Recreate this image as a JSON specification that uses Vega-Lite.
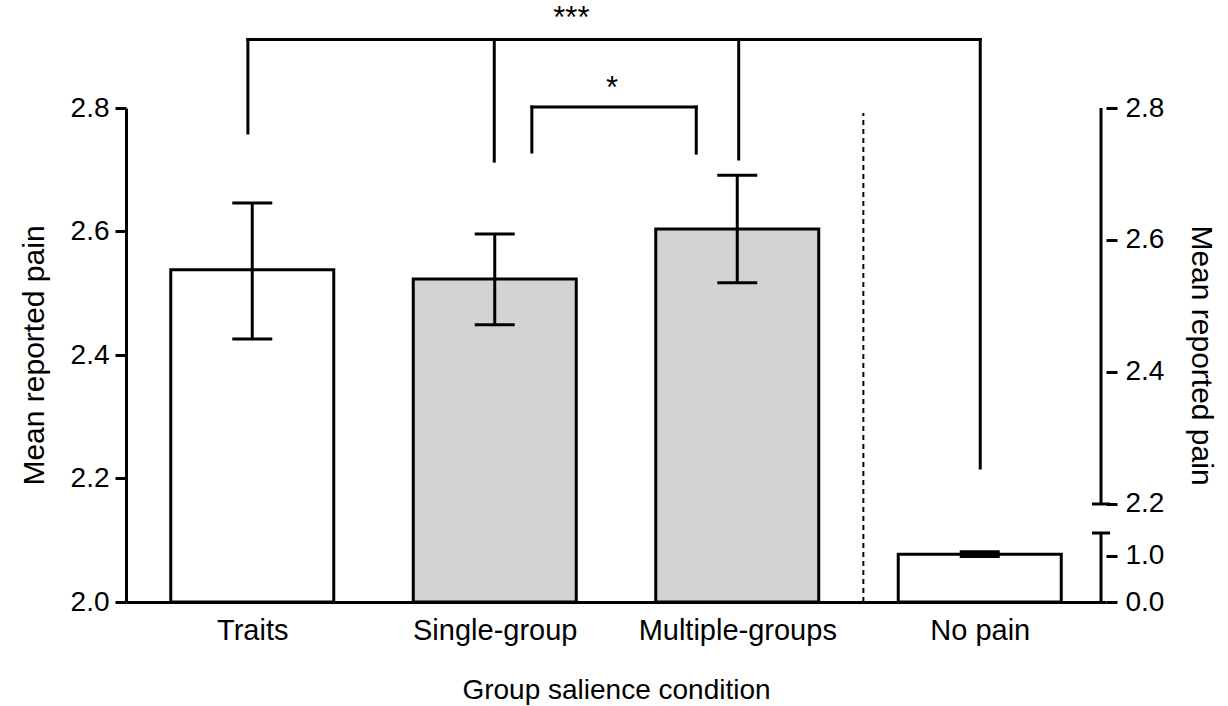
{
  "$schema": "https://vega.github.io/schema/vega-lite/v6.json",
  "width": 980,
  "height": 494,
  "autosize": {"type": "none"},
  "padding": {"left": 126, "top": 108, "right": 122, "bottom": 104},
  "background": "white",
  "config": {
    "font": "Liberation Sans",
    "view": {"stroke": null},
    "axis": {
      "grid": false,
      "domainColor": "black",
      "domainWidth": 3,
      "tickColor": "black",
      "tickWidth": 3,
      "tickSize": 11,
      "labelColor": "black",
      "labelFont": "Liberation Sans",
      "labelFontSize": 28,
      "labelLimit": 0,
      "titleColor": "black",
      "titleFont": "Liberation Sans",
      "titleFontWeight": "normal",
      "titleFontSize": 30
    }
  },
  "datasets": {
    "bars": [
      {"condition": "Traits", "pos": 0.5, "mean": 2.538, "lo": 2.426, "hi": 2.646, "kind": "control"},
      {"condition": "Single-group", "pos": 1.5, "mean": 2.523, "lo": 2.449, "hi": 2.596, "kind": "group"},
      {"condition": "Multiple-groups", "pos": 2.5, "mean": 2.604, "lo": 2.517, "hi": 2.691, "kind": "group"}
    ],
    "nopain": [
      {"condition": "No pain", "pos": 3.5, "mean": 1.04, "lo": 0.99, "hi": 1.09, "kind": "control"}
    ],
    "drops": [
      {"pos": 0.482, "y": 2.911, "y2": 2.7595},
      {"pos": 1.498, "y": 2.911, "y2": 2.714},
      {"pos": 2.506, "y": 2.911, "y2": 2.7174},
      {"pos": 3.502, "y": 2.911, "y2": 2.217},
      {"pos": 1.653, "y": 2.8016, "y2": 2.7287},
      {"pos": 2.331, "y": 2.8016, "y2": 2.727}
    ],
    "hlines": [
      {"pos": 0.482, "pos2": 3.502, "y": 2.911},
      {"pos": 1.653, "pos2": 2.331, "y": 2.8016}
    ],
    "stars": [
      {"pos": 1.816, "y": 2.9446, "label": "***"},
      {"pos": 1.984, "y": 2.8312, "label": "*"}
    ],
    "divider": [
      {"pos": 3.02, "y": 2.0, "y2": 2.792}
    ],
    "upperAxis": [
      {"pos": 4, "lo": 2.2, "hi": 2.8}
    ],
    "lowerAxis": [
      {"pos": 4, "lo": 0, "hi": 1.5}
    ]
  },
  "encoding": {
    "x": {
      "field": "pos",
      "type": "quantitative",
      "scale": {"domain": [0, 4], "nice": false, "zero": false},
      "axis": {
        "values": [0.5, 1.5, 2.5, 3.5],
        "labelExpr": "['Traits','Single-group','Multiple-groups','No pain'][floor(datum.value)]",
        "ticks": false,
        "tickSize": 0,
        "labelPadding": 14,
        "labelFontSize": 29,
        "labelLimit": 0,
        "title": "Group salience condition",
        "titleFontSize": 28,
        "titlePadding": 31
      }
    }
  },
  "layer": [
    {
      "layer": [
        {
          "data": {"name": "bars"},
          "mark": {"type": "bar", "width": 163, "stroke": "black", "strokeWidth": 3, "opacity": 1},
          "encoding": {
            "y": {
              "field": "mean",
              "type": "quantitative",
              "scale": {"domain": [2.0, 2.8], "nice": false, "zero": false},
              "axis": {
                "orient": "left",
                "values": [2.0, 2.2, 2.4, 2.6, 2.8],
                "format": ".1f",
                "labelPadding": 6,
                "title": "Mean reported pain",
                "titlePadding": 21
              }
            },
            "y2": {"datum": 2.0},
            "color": {
              "field": "kind",
              "type": "nominal",
              "scale": {"domain": ["control", "group"], "range": ["white", "#d3d3d3"]},
              "legend": null
            }
          }
        },
        {
          "data": {"name": "bars"},
          "mark": {"type": "rule", "color": "black", "strokeWidth": 3},
          "encoding": {
            "y": {"field": "lo", "type": "quantitative", "scale": {"domain": [2.0, 2.8], "nice": false, "zero": false}},
            "y2": {"field": "hi"}
          }
        },
        {
          "data": {"name": "bars"},
          "mark": {"type": "tick", "orient": "horizontal", "size": 40, "thickness": 3, "color": "black", "opacity": 1},
          "encoding": {
            "y": {"field": "lo", "type": "quantitative", "scale": {"domain": [2.0, 2.8], "nice": false, "zero": false}}
          }
        },
        {
          "data": {"name": "bars"},
          "mark": {"type": "tick", "orient": "horizontal", "size": 40, "thickness": 3, "color": "black", "opacity": 1},
          "encoding": {
            "y": {"field": "hi", "type": "quantitative", "scale": {"domain": [2.0, 2.8], "nice": false, "zero": false}}
          }
        },
        {
          "data": {"name": "drops"},
          "mark": {"type": "rule", "color": "black", "strokeWidth": 3, "strokeCap": "square"},
          "encoding": {
            "y": {"field": "y", "type": "quantitative", "scale": {"domain": [2.0, 2.8], "nice": false, "zero": false}},
            "y2": {"field": "y2"}
          }
        },
        {
          "data": {"name": "hlines"},
          "mark": {"type": "rule", "color": "black", "strokeWidth": 3, "strokeCap": "square"},
          "encoding": {
            "x2": {"field": "pos2"},
            "y": {"field": "y", "type": "quantitative", "scale": {"domain": [2.0, 2.8], "nice": false, "zero": false}}
          }
        },
        {
          "data": {"name": "stars"},
          "mark": {"type": "text", "fontSize": 31, "color": "black", "baseline": "middle", "align": "center"},
          "encoding": {
            "y": {"field": "y", "type": "quantitative", "scale": {"domain": [2.0, 2.8], "nice": false, "zero": false}},
            "text": {"field": "label"}
          }
        },
        {
          "data": {"name": "divider"},
          "mark": {"type": "rule", "color": "black", "strokeWidth": 2, "strokeDash": [5, 4]},
          "encoding": {
            "y": {"field": "y", "type": "quantitative", "scale": {"domain": [2.0, 2.8], "nice": false, "zero": false}},
            "y2": {"field": "y2"}
          }
        }
      ]
    },
    {
      "layer": [
        {
          "data": {"name": "upperAxis"},
          "mark": {"type": "rule", "color": "black", "strokeWidth": 3},
          "encoding": {
            "y": {
              "field": "lo",
              "type": "quantitative",
              "scale": {"domain": [2.0515, 2.8], "nice": false, "zero": false},
              "axis": {
                "orient": "right",
                "domain": false,
                "values": [2.2, 2.4, 2.6, 2.8],
                "format": ".1f",
                "labelPadding": 8,
                "title": "Mean reported pain",
                "titlePadding": 22
              }
            },
            "y2": {"field": "hi"}
          }
        },
        {
          "data": {"name": "upperAxis"},
          "mark": {"type": "tick", "orient": "horizontal", "size": 18, "thickness": 3, "color": "black", "opacity": 1},
          "encoding": {
            "y": {"field": "lo", "type": "quantitative", "scale": {"domain": [2.0515, 2.8], "nice": false, "zero": false}}
          }
        }
      ]
    },
    {
      "layer": [
        {
          "data": {"name": "nopain"},
          "mark": {"type": "bar", "width": 163, "stroke": "black", "strokeWidth": 3, "opacity": 1, "fill": "white"},
          "encoding": {
            "y": {
              "field": "mean",
              "type": "quantitative",
              "scale": {"domain": [0, 10.739], "nice": false, "zero": true},
              "axis": {
                "orient": "right",
                "domain": false,
                "values": [0, 1],
                "format": ".1f",
                "labelPadding": 8,
                "title": null
              }
            },
            "y2": {"datum": 0}
          }
        },
        {
          "data": {"name": "nopain"},
          "mark": {"type": "rule", "color": "black", "strokeWidth": 3},
          "encoding": {
            "y": {"field": "lo", "type": "quantitative", "scale": {"domain": [0, 10.739], "nice": false, "zero": true}},
            "y2": {"field": "hi"}
          }
        },
        {
          "data": {"name": "nopain"},
          "mark": {"type": "tick", "orient": "horizontal", "size": 40, "thickness": 3, "color": "black", "opacity": 1},
          "encoding": {
            "y": {"field": "lo", "type": "quantitative", "scale": {"domain": [0, 10.739], "nice": false, "zero": true}}
          }
        },
        {
          "data": {"name": "nopain"},
          "mark": {"type": "tick", "orient": "horizontal", "size": 40, "thickness": 3, "color": "black", "opacity": 1},
          "encoding": {
            "y": {"field": "hi", "type": "quantitative", "scale": {"domain": [0, 10.739], "nice": false, "zero": true}}
          }
        },
        {
          "data": {"name": "lowerAxis"},
          "mark": {"type": "rule", "color": "black", "strokeWidth": 3},
          "encoding": {
            "y": {"field": "lo", "type": "quantitative", "scale": {"domain": [0, 10.739], "nice": false, "zero": true}},
            "y2": {"field": "hi"}
          }
        },
        {
          "data": {"name": "lowerAxis"},
          "mark": {"type": "tick", "orient": "horizontal", "size": 18, "thickness": 3, "color": "black", "opacity": 1},
          "encoding": {
            "y": {"field": "hi", "type": "quantitative", "scale": {"domain": [0, 10.739], "nice": false, "zero": true}}
          }
        }
      ]
    }
  ],
  "resolve": {"scale": {"y": "independent"}, "axis": {"y": "independent"}}
}
